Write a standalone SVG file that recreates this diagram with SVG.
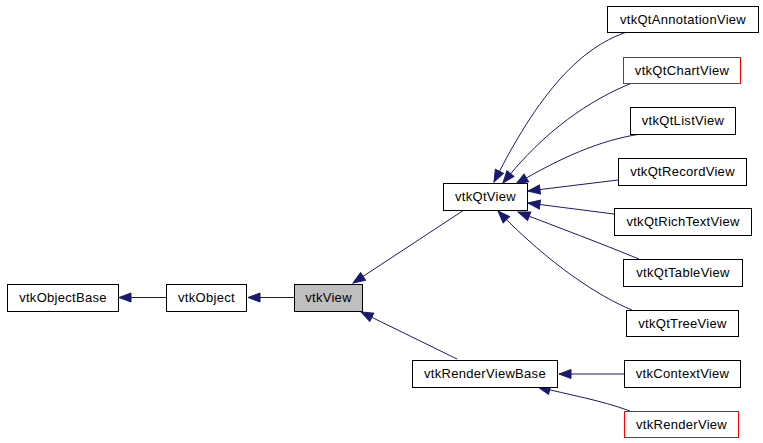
<svg xmlns="http://www.w3.org/2000/svg" width="763" height="443" viewBox="0 0 763 443">
<style>
.n rect{fill:#fff;stroke:#000;stroke-width:1}
.n.red rect{stroke:#f00}
.n.cur rect{fill:#bfbfbf}
.n text{font-family:"Liberation Sans",Arial,Helvetica,sans-serif;font-size:13px;letter-spacing:0.3px;text-anchor:middle;fill:#000}
.e path{fill:none;stroke:#191970;stroke-width:1;marker-end:url(#ah)}
</style>
<defs>
<marker id="ah" markerUnits="userSpaceOnUse" markerWidth="14" markerHeight="12" refX="12" refY="5" orient="auto" overflow="visible">
<path d="M0,0.5 L12,5 L0,9.5 z" fill="#191970" stroke="#191970" stroke-width="1"/>
</marker>
</defs>
<rect width="763" height="443" fill="#fff"/>
<g id="edges" class="e">
<path d="M166,297.5 L119,297.5"/>
<path d="M294,297.5 L248,297.5"/>
<path d="M464,210 L353,283"/>
<path d="M457,359 L361,312"/>
<path d="M624,374 L559,374"/>
<path d="M630,411 C600,400 570,395 538,387"/>
<path d="M627,32 C588,45 545,80 494,182"/>
<path d="M632,83 C590,100 545,130 503,183"/>
<path d="M641,134 C600,140 560,158 516,184"/>
<path d="M618,180 L528,191"/>
<path d="M614,214 L528,203"/>
<path d="M639,259 C600,243 560,228 518,212"/>
<path d="M632,310 C600,297 550,265 498,211"/>
</g>
<g id="vtkObjectBase" class="n"><rect x="7.5" y="284.5" width="111" height="27"/><text x="63" y="302">vtkObjectBase</text></g>
<g id="vtkObject" class="n"><rect x="166.5" y="284.5" width="80" height="27"/><text x="206.5" y="302">vtkObject</text></g>
<g id="vtkView" class="n cur"><rect x="294.5" y="284.5" width="68" height="27"/><text x="328.5" y="302">vtkView</text></g>
<g id="vtkQtView" class="n"><rect x="443.5" y="183.5" width="84" height="27"/><text x="485.5" y="201">vtkQtView</text></g>
<g id="vtkRenderViewBase" class="n"><rect x="412.5" y="360.5" width="145" height="27"/><text x="485" y="378">vtkRenderViewBase</text></g>
<g id="vtkQtAnnotationView" class="n"><rect x="607.5" y="6.5" width="151" height="26"/><text x="683" y="24">vtkQtAnnotationView</text></g>
<g id="vtkQtChartView" class="n red"><rect x="623.5" y="57.5" width="117" height="26"/><text x="682" y="75">vtkQtChartView</text></g>
<g id="vtkQtListView" class="n"><rect x="630.5" y="107.5" width="105" height="27"/><text x="683" y="125">vtkQtListView</text></g>
<g id="vtkQtRecordView" class="n"><rect x="618.5" y="158.5" width="128" height="27"/><text x="682.5" y="176">vtkQtRecordView</text></g>
<g id="vtkQtRichTextView" class="n"><rect x="614.5" y="208.5" width="137" height="27"/><text x="683" y="226">vtkQtRichTextView</text></g>
<g id="vtkQtTableView" class="n"><rect x="623.5" y="259.5" width="119" height="27"/><text x="683" y="277">vtkQtTableView</text></g>
<g id="vtkQtTreeView" class="n"><rect x="626.5" y="310.5" width="112" height="26"/><text x="682.5" y="328">vtkQtTreeView</text></g>
<g id="vtkContextView" class="n"><rect x="624.5" y="360.5" width="116" height="27"/><text x="682.5" y="378">vtkContextView</text></g>
<g id="vtkRenderView" class="n red"><rect x="624.5" y="411.5" width="114" height="26"/><text x="681.5" y="429">vtkRenderView</text></g>
</svg>
